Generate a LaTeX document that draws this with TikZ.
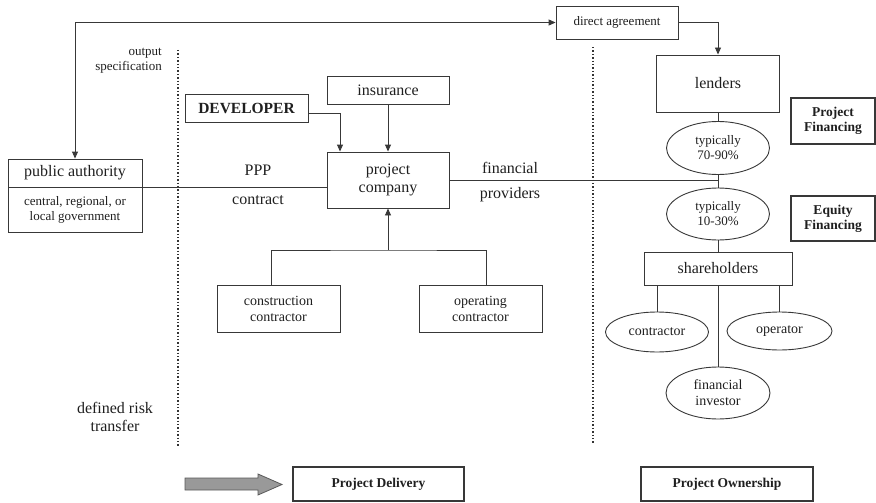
\documentclass[tikz,border=0pt]{standalone}
\usepackage{fontspec}
\setmainfont{Liberation Serif}
\usetikzlibrary{arrows.meta,shapes.geometric,calc}
\begin{document}
\begin{tikzpicture}[x=1pt,y=-1pt,
  ln/.style={draw=black!78, line width=0.9pt},
  box/.style={draw=black!78, line width=0.9pt, rectangle, inner sep=0pt, align=center, text=black!88},
  tbox/.style={box, line width=1.8pt},
  ell/.style={draw=black!78, line width=0.9pt, ellipse, inner sep=0pt, align=center, text=black!88},
  tip/.style={-{Triangle[length=7pt,width=6pt]}},
  dots/.style={draw=black!80, line width=1.2pt, dash pattern=on 1.4pt off 2pt},
  lbl/.style={inner sep=0pt, align=center, text=black!88},
  fL/.style={font=\fontsize{16}{18}\selectfont},
  fM/.style={font=\fontsize{14}{16}\selectfont},
  fS/.style={font=\fontsize{13}{15}\selectfont},
  fB/.style={font=\fontsize{13.5}{15}\selectfont\bfseries},
]
\useasboundingbox (0,0) rectangle (876,503);

% boxes
\node[box,fS,minimum width=122pt,minimum height=33pt] (da) at (617,22.5) {direct agreement};
\node[box,fL,minimum width=134pt,minimum height=28pt] (pat) at (75,173) {public authority};
\node[box,fS,minimum width=134pt,minimum height=45pt] (pab) at (75,209.5) {central, regional, or\\local government};
\node[box,fL,font=\fontsize{15.5}{18}\selectfont\bfseries,minimum width=123pt,minimum height=28pt] (dev) at (246.5,108) {DEVELOPER};
\node[box,fL,minimum width=122pt,minimum height=28pt] (ins) at (388,90) {insurance};
\node[box,fL,minimum width=122pt,minimum height=56pt] (pc) at (388,180) {project\\company};
\node[box,fL,minimum width=123pt,minimum height=57pt] (lenders) at (718,83.5) {lenders};
\node[ell,fS,minimum width=103pt,minimum height=53pt] (e1) at (718,148) {typically\\70-90\%};
\node[ell,fS,minimum width=103pt,minimum height=52pt] (e2) at (718,214) {typically\\10-30\%};
\node[tbox,fB,minimum width=84pt,minimum height=46pt] (pf) at (833,121) {Project\\Financing};
\node[tbox,fB,minimum width=84pt,minimum height=45pt] (ef) at (833,218.5) {Equity\\Financing};
\node[box,fL,minimum width=148pt,minimum height=33pt] (sh) at (718,268.5) {shareholders};
\node[ell,fM,minimum width=103pt,minimum height=40pt] (con) at (657,332) {contractor};
\node[ell,fM,minimum width=105pt,minimum height=38pt] (op) at (779.5,331) {operator};
\node[ell,fM,minimum width=104pt,minimum height=52pt] (fi) at (718,393) {financial\\investor};
\node[box,fM,minimum width=123pt,minimum height=47pt] (cc) at (278.5,308.5) {construction\\contractor};
\node[box,fM,minimum width=123pt,minimum height=47pt] (oc) at (480.5,308.5) {operating\\contractor};
\node[tbox,fB,minimum width=171pt,minimum height=34pt] (pd) at (378.5,484) {Project Delivery};
\node[tbox,fB,minimum width=172pt,minimum height=34pt] (po) at (727,484) {Project Ownership};

% labels
\node[lbl,fS,anchor=east,align=right] (os) at (162,61) {output\\specification};
\node[lbl,fL] (drt) at (115,417) {defined risk\\transfer};
\node[lbl,fL] (ppp) at (258,170) {PPP};
\node[lbl,fL] (ctr) at (258,200) {contract};
\node[lbl,fL] (fin) at (510,168) {financial};
\node[lbl,fL] (prov) at (510,195) {providers};

% connectors
\draw[ln,{Triangle[length=7pt,width=6pt]}-{Triangle[length=7pt,width=6pt]}] (pat.north) |- (da.west);
\draw[ln,tip] (da.east) -| (lenders.north);
\draw[ln,tip] ([yshift=-5pt]dev.east) -| ([xshift=-48pt]pc.north);
\draw[ln,tip] (ins.south) -- (pc.north);
\draw[ln] (pat.south east) -- (pat.south east -| pc.west);
\draw[ln] (pc.east) -- (pc.east -| lenders.south);
\draw[ln] (lenders.south) -- (e1.north);
\draw[ln] (e1.south) -- (e2.north);
\draw[ln] (e2.south) -- (sh.north);
\coordinate (j) at (388,250);
\draw[ln,tip] (j) -- (pc.south);
\draw[ln] ([xshift=-7pt]cc.north) |- (j) -| ([xshift=6pt]oc.north);
\draw[ln] (con.north) -- (con.north |- sh.south);
\draw[ln] (op.north) -- (op.north |- sh.south);
\draw[ln] (sh.south) -- (fi.north);

% dotted separators
\coordinate (d1t) at (178,50);
\coordinate (d1b) at (178,447);
\coordinate (d2t) at (593,47);
\coordinate (d2b) at (593,443);
\draw[dots] (d1t) -- (d1b);
\draw[dots] (d2t) -- (d2b);

% gray block arrow
\draw[fill=black!40, draw=black!65, line width=0.8pt, line join=miter]
  (185,478) -- (258,478) -- (258,474) -- (282,484.5) -- (258,495) -- (258,490) -- (185,490) -- cycle;
\end{tikzpicture}
\end{document}
